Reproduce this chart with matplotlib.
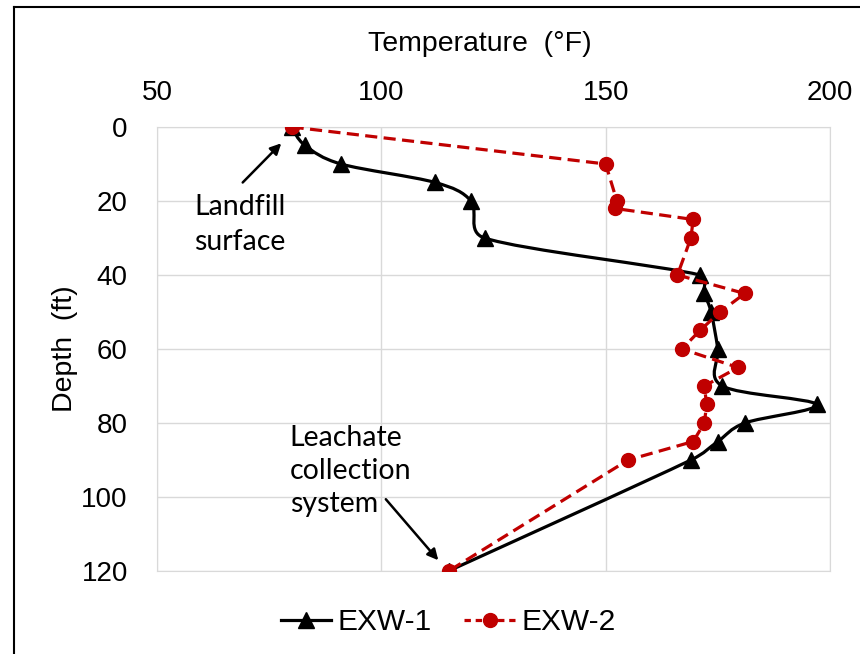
import numpy as np
import matplotlib
matplotlib.use("Agg")
import matplotlib.pyplot as plt
from matplotlib.path import Path
from matplotlib.patches import PathPatch
from matplotlib.lines import Line2D

plt.rcParams['font.family'] = ['Liberation Sans', 'DejaVu Sans']

# EXW-1 (black, smoothed line, triangles)
temp1 = [80, 83, 91, 112, 120, 123, 171, 172, 173.5, 175, 176, 197, 181, 175, 169, 115]
depth1 = [0, 5, 10, 15, 20, 30, 40, 45, 50, 60, 70, 75, 80, 85, 90, 120]

# EXW-2 (red dashed, circles)
temp2 = [80, 150, 152.5, 152, 169.5, 169, 166, 181, 175.5, 171, 167, 179.5, 172, 172.5, 172, 169.5, 155, 115]
depth2 = [0, 10, 20, 22, 25, 30, 40, 45, 50, 55, 60, 65, 70, 75, 80, 85, 90, 120]

xticks = [50, 100, 150, 200]
yticks = [0, 20, 40, 60, 80, 100, 120]

red = '#C00000'
grid_col = '#d9d9d9'


def smooth_path(ax, x, y):
    # excel-like smoothed line, bezier control points worked out in screen space
    pts = ax.transData.transform(np.column_stack([x, y]))
    n = len(pts)
    verts = [pts[0]]
    codes = [Path.MOVETO]
    for i in range(n - 1):
        p1 = pts[i]
        p2 = pts[i + 1]
        p0 = pts[i - 1] if i > 0 else p1
        p3 = pts[i + 2] if i + 2 < n else p2
        d12 = np.hypot(*(p2 - p1))
        d02 = np.hypot(*(p2 - p0))
        d13 = np.hypot(*(p3 - p1))
        f1 = 1 / 6 if d02 / 6 < d12 / 2 else d12 / 2 / d02
        f2 = 1 / 6 if d13 / 6 < d12 / 2 else d12 / 2 / d13
        verts += [p1 + f1 * (p2 - p0), p2 - f2 * (p3 - p1), p2]
        codes += [Path.CURVE4] * 3
    verts = ax.transData.inverted().transform(np.array(verts))
    return Path(verts, codes)


fig = plt.figure(figsize=(8.6, 6.54), dpi=100)
ax = fig.add_axes([157 / 860, 1 - 571 / 654, 673 / 860, 444 / 654])
ax.set_xlim(50, 200)
ax.set_ylim(120, 0)

ax.add_patch(PathPatch(smooth_path(ax, temp1, depth1), fill=False, ec='k', lw=2.3, zorder=3))
ax.plot(temp1, depth1, ls='none', marker='^', color='k', ms=11, zorder=4)
ax.plot(temp2, depth2, ls=(0, (3.8, 2)), marker='o', color=red, ms=10, lw=2.3, zorder=5)

ax.set_xticks(xticks)
ax.set_yticks(yticks)
ax.xaxis.tick_top()
ax.xaxis.set_label_position('top')
ax.tick_params(length=0, labelsize=20)
ax.tick_params(axis='x', pad=15)
ax.tick_params(axis='y', pad=21)
ax.grid(True, color=grid_col, lw=1)
ax.set_axisbelow(True)
for s in ax.spines.values():
    s.set_color(grid_col)

ax.set_xlabel('Temperature  (°F)', fontsize=20.5)
ax.xaxis.set_label_coords(0.48, 1.172)
ax.set_ylabel('Depth  (ft)', fontsize=20.5)
ax.yaxis.set_label_coords(-0.117, 0.5)

ann_font = ['Lato', 'DejaVu Sans']
arrow = dict(arrowstyle='-|>', color='k', lw=1.8, mutation_scale=16, shrinkA=0, shrinkB=0)
ax.text(68.5, 26.3, 'Landfill\nsurface', fontsize=20.5, family=ann_font,
        ha='center', va='center', linespacing=1.4)
ax.annotate('', xy=(77.7, 4.4), xytext=(69.1, 15.0), arrowprops=arrow)
ax.annotate('', xy=(112.7, 117.1), xytext=(101.0, 100.6), arrowprops=arrow)
ax.text(79.6, 93.0, 'Leachate\ncollection\nsystem', fontsize=20.5, family=ann_font,
        ha='left', va='center', linespacing=1.35)

handles = [Line2D([], [], color='k', lw=2.3, marker='^', ms=11),
           Line2D([], [], color=red, lw=2.3, ls=(0, (2, 1.5)), marker='o', ms=10)]
fig.legend(handles, ['EXW-1', 'EXW-2'], loc='center', bbox_to_anchor=(0.521, 0.049),
           ncol=2, frameon=False, fontsize=21.5, handlelength=1.7, handletextpad=0.2,
           columnspacing=1.1)

# outer frame lines (left and top)
fig.add_artist(Line2D([14 / 860, 14 / 860], [0, 1 - 7 / 654], transform=fig.transFigure, color='k', lw=1.5))
fig.add_artist(Line2D([14 / 860, 1], [1 - 7 / 654, 1 - 7 / 654], transform=fig.transFigure, color='k', lw=1.5))

fig.savefig('out.png', dpi=100)
